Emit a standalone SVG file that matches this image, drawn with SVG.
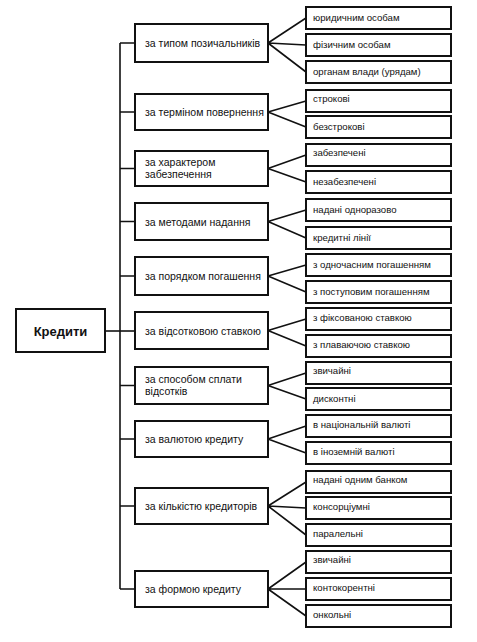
<svg xmlns="http://www.w3.org/2000/svg" width="477" height="642" viewBox="0 0 477 642">
<style>
.bx{fill:#fff;stroke:#111;stroke-width:2}
.ln{fill:none;stroke:#111;stroke-width:1.6}
.t{font-family:"Liberation Sans",Arial,sans-serif;font-size:10.5px;fill:#111}
.s{font-family:"Liberation Sans",Arial,sans-serif;font-size:9.6px;fill:#111}
.m{font-family:"Liberation Sans",Arial,sans-serif;font-size:13px;font-weight:bold;fill:#111}
</style>
<rect width="477" height="642" fill="#fff"/>
<g id="connectors" class="ln">
<path d="M105 331H135"/>
<path d="M120 43V589"/>
<path d="M120 43H135M120 112H135M120 168.5H135M120 221.5H135M120 276H135M120 385.5H135M120 439H135M120 506H135M120 589H135"/>
<path d="M268 43L306 18M268 43L306 45M268 43L306 72"/>
<path d="M268 112L306 101M268 112L306 127"/>
<path d="M268 168.5L306 155M268 168.5L306 182"/>
<path d="M268 221.5L306 210M268 221.5L306 238"/>
<path d="M268 276L306 265M268 276L306 292"/>
<path d="M268 330.5L306 319M268 330.5L306 346"/>
<path d="M268 385.5L306 373M268 385.5L306 399"/>
<path d="M268 439L306 426M268 439L306 453"/>
<path d="M268 506L306 482M268 506L306 508M268 506L306 535"/>
<path d="M268 589L306 562M268 589L306 589M268 589L306 616"/>
</g>
<g id="root"><rect class="bx" x="16" y="309" width="89" height="43"/><text class="m" x="60.5" y="335.5" text-anchor="middle">Кредити</text></g>
<g id="c1"><rect class="bx" x="135" y="24" width="133" height="38"/><text class="t" x="145" y="47">за типом позичальників</text></g>
<g id="c2"><rect class="bx" x="135" y="94" width="133" height="36"/><text class="t" x="145" y="116">за терміном повернення</text></g>
<g id="c3"><rect class="bx" x="135" y="151" width="133" height="35"/><text class="t" x="145" y="166">за характером</text><text class="t" x="145" y="178">забезпечення</text></g>
<g id="c4"><rect class="bx" x="135" y="203" width="133" height="37"/><text class="t" x="145" y="225.5">за методами надання</text></g>
<g id="c5"><rect class="bx" x="135" y="257" width="133" height="38"/><text class="t" x="145" y="280">за порядком погашення</text></g>
<g id="c6"><rect class="bx" x="135" y="312" width="133" height="37"/><text class="t" x="145" y="334.5">за відсотковою ставкою</text></g>
<g id="c7"><rect class="bx" x="135" y="367" width="133" height="37"/><text class="t" x="145" y="383">за способом сплати</text><text class="t" x="145" y="395">відсотків</text></g>
<g id="c8"><rect class="bx" x="135" y="421" width="133" height="36"/><text class="t" x="145" y="443">за валютою кредиту</text></g>
<g id="c9"><rect class="bx" x="135" y="488" width="133" height="36"/><text class="t" x="145" y="510">за кількістю кредиторів</text></g>
<g id="c10"><rect class="bx" x="135" y="571" width="133" height="36"/><text class="t" x="145" y="593">за формою кредиту</text></g>
<g id="r1a"><rect class="bx" x="306" y="7" width="145" height="22"/><text class="s" x="313" y="21">юридичним особам</text></g>
<g id="r1b"><rect class="bx" x="306" y="34" width="145" height="22"/><text class="s" x="313" y="48">фізичним особам</text></g>
<g id="r1c"><rect class="bx" x="306" y="61" width="145" height="22"/><text class="s" x="313" y="75">органам влади (урядам)</text></g>
<g id="r2a"><rect class="bx" x="306" y="90" width="145" height="22"/><text class="s" x="313" y="102">строкові</text></g>
<g id="r2b"><rect class="bx" x="306" y="116" width="145" height="22"/><text class="s" x="313" y="130">безстрокові</text></g>
<g id="r3a"><rect class="bx" x="306" y="144" width="145" height="22"/><text class="s" x="313" y="156">забезпечені</text></g>
<g id="r3b"><rect class="bx" x="306" y="171" width="145" height="22"/><text class="s" x="313" y="185">незабезпечені</text></g>
<g id="r4a"><rect class="bx" x="306" y="199" width="145" height="22"/><text class="s" x="313" y="213">надані одноразово</text></g>
<g id="r4b"><rect class="bx" x="306" y="227" width="145" height="22"/><text class="s" x="313" y="241">кредитні лінії</text></g>
<g id="r5a"><rect class="bx" x="306" y="254" width="145" height="22"/><text class="s" x="313" y="268">з одночасним погашенням</text></g>
<g id="r5b"><rect class="bx" x="306" y="281" width="145" height="22"/><text class="s" x="313" y="295">з поступовим погашенням</text></g>
<g id="r6a"><rect class="bx" x="306" y="308" width="145" height="22"/><text class="s" x="313" y="321">з фіксованою ставкою</text></g>
<g id="r6b"><rect class="bx" x="306" y="335" width="145" height="22"/><text class="s" x="313" y="348">з плаваючою ставкою</text></g>
<g id="r7a"><rect class="bx" x="306" y="362" width="145" height="22"/><text class="s" x="313" y="374">звичайні</text></g>
<g id="r7b"><rect class="bx" x="306" y="388" width="145" height="22"/><text class="s" x="313" y="402">дисконтні</text></g>
<g id="r8a"><rect class="bx" x="306" y="415" width="145" height="22"/><text class="s" x="313" y="428">в національній валюті</text></g>
<g id="r8b"><rect class="bx" x="306" y="442" width="145" height="22"/><text class="s" x="313" y="455">в іноземній валюті</text></g>
<g id="r9a"><rect class="bx" x="306" y="471" width="145" height="22"/><text class="s" x="313" y="483">надані одним банком</text></g>
<g id="r9b"><rect class="bx" x="306" y="497" width="145" height="22"/><text class="s" x="313" y="510">консорціумні</text></g>
<g id="r9c"><rect class="bx" x="306" y="524" width="145" height="22"/><text class="s" x="313" y="537">паралельні</text></g>
<g id="r10a"><rect class="bx" x="306" y="551" width="145" height="22"/><text class="s" x="313" y="563">звичайні</text></g>
<g id="r10b"><rect class="bx" x="306" y="578" width="145" height="22"/><text class="s" x="313" y="591">контокорентні</text></g>
<g id="r10c"><rect class="bx" x="306" y="605" width="145" height="22"/><text class="s" x="313" y="618">онкольні</text></g>
</svg>
